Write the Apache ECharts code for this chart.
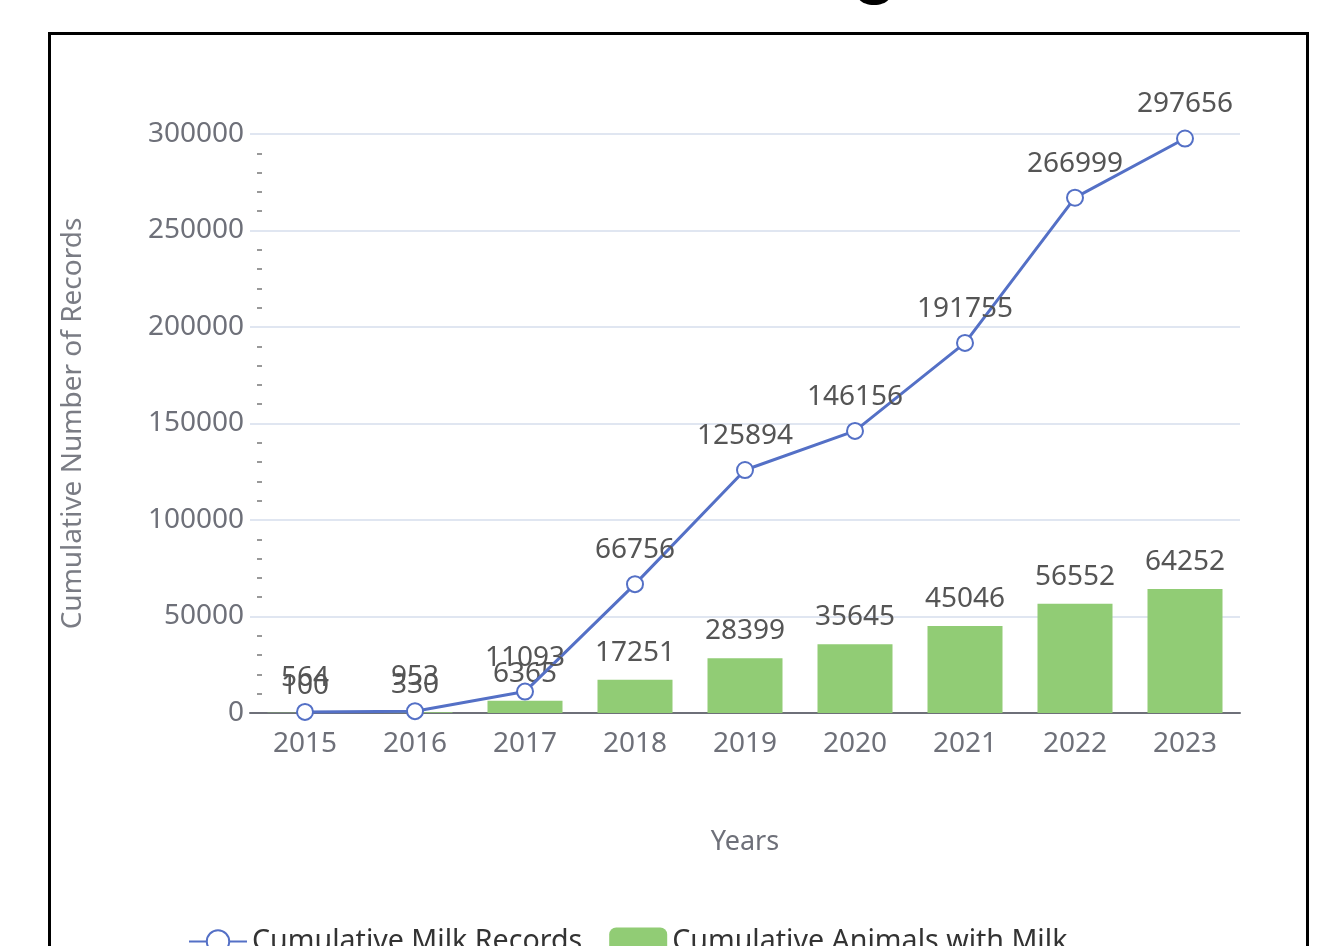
<!DOCTYPE html>
<html>
<head>
<meta charset="utf-8">
<script src="https://cdn.jsdelivr.net/npm/echarts@6/dist/echarts.min.js"></script>
<style>
html,body{margin:0;padding:0;background:#fff;}
#main{width:1342px;height:946px;}
</style>
</head>
<body>
<div id="main"></div>
<script>
const years = ['2015','2016','2017','2018','2019','2020','2021','2022','2023'];
const milkRecords = [564, 953, 11093, 66756, 125894, 146156, 191755, 266999, 297656];
const animalsWithMilk = [100, 330, 6365, 17251, 28399, 35645, 45046, 56552, 64252];
const yTicks = [0, 50000, 100000, 150000, 200000, 250000, 300000];

const FONT = 'Noto Sans';
const chart = echarts.init(document.getElementById('main'));
chart.setOption({
  animation: false,
  textStyle: { fontFamily: FONT },
  graphic: [
    { type: 'rect', z: -10, shape: { x: 49.5, y: 33.5, width: 1258, height: 1000 },
      style: { fill: 'none', stroke: '#000', lineWidth: 3 } },
    { type: 'ellipse', shape: { cx: 874, cy: -4, rx: 16, ry: 9 }, style: { fill: '#000' } }
  ],
  grid: { left: 250, right: 102, top: 134, bottom: 233 },
  legend: {
    left: 183, top: 922,
    itemWidth: 58, itemHeight: 28, itemGap: 27,
    textStyle: { fontSize: 28.6, color: '#333', fontFamily: FONT },
    data: ['Cumulative Milk Records', 'Cumulative Animals with Milk']
  },
  xAxis: {
    type: 'category',
    data: years,
    name: 'Years',
    nameLocation: 'middle',
    nameGap: 116,
    nameTextStyle: { fontSize: 27, color: '#6e7079' },
    axisLine: { lineStyle: { color: '#6e7079', width: 2 } },
    axisTick: { alignWithLabel: true, length: 8, lineStyle: { color: '#6e7079' } },
    axisLabel: { fontSize: 28, color: '#6e7079', margin: 17 }
  },
  yAxis: {
    type: 'value',
    min: 0, max: 300000, interval: 50000,
    offset: -12,
    name: 'Cumulative Number of Records',
    nameLocation: 'middle',
    nameGap: 175,
    nameTextStyle: { fontSize: 28, color: '#7a7c84' },
    axisLine: { show: false },
    axisTick: { show: false },
    minorTick: { show: true, splitNumber: 5, length: 5, lineStyle: { color: '#999', width: 2 } },
    splitLine: { lineStyle: { color: '#E0E6F1', width: 2 } },
    axisLabel: { fontSize: 28, color: '#6e7079', margin: 18,
      formatter: v => yTicks.includes(v) ? String(v) : '' }
  },
  series: [
    {
      name: 'Cumulative Milk Records',
      type: 'line',
      data: milkRecords,
      symbol: 'emptyCircle',
      symbolSize: 16,
      z: 3,
      itemStyle: { color: '#5470c6', borderWidth: 4 },
      lineStyle: { color: '#5470c6', width: 3 },
      label: { show: true, position: 'top', distance: 11, fontSize: 28, color: '#555' }
    },
    {
      name: 'Cumulative Animals with Milk',
      type: 'bar',
      data: animalsWithMilk,
      barWidth: 75,
      z: 2,
      itemStyle: { color: '#91cc75' },
      label: { show: true, position: 'top', distance: 13, fontSize: 28, color: '#555' }
    }
  ]
});
</script>
</body>
</html>
